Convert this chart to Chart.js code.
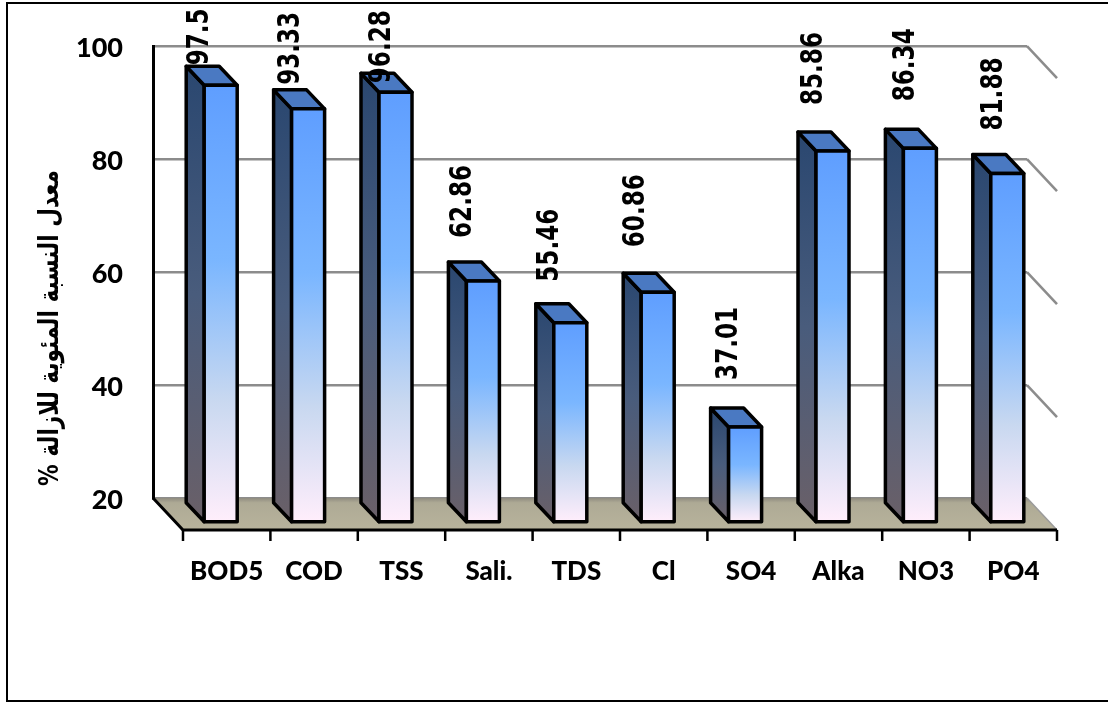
<!DOCTYPE html>
<html>
<head>
<meta charset="utf-8">
<style>
body{margin:0;background:#fff;}
canvas{display:block;}
</style>
<script src="https://cdn.jsdelivr.net/npm/chart.js@4"></script>
</head>
<body>
<canvas id="removal" width="1108" height="702"></canvas>
<script>
var categories=['BOD5','COD','TSS','Sali.','TDS','Cl','SO4','Alka','NO3','PO4'];
var removal=[97.5,93.33,96.28,62.86,55.46,60.86,37.01,85.86,86.34,81.88];
var valueLabels=['97.5','93.33','96.28','62.86','55.46','60.86','37.01','85.86','86.34','81.88'];
var yTicks=[20,40,60,80,100];
var yTitle='معدل النسبة المئوية للازالة %';

// hand placed value labels, px from the back left corner of each bar top
var labelShiftX=[14,17,21,15,14,13,18,16,21,21];
var labelShiftY=[1,5,-10,24,22,26,28,27,28,24];

// depth of the floor and of the bars, px
var floorDx=30,floorDy=32;
var barBackDx=6,barBackDy=6,barFrontDx=24,barFrontDy=25;

var poly=function(ctx,pts){
    ctx.beginPath();
    ctx.moveTo(pts[0][0],pts[0][1]);
    for(var i=1;i<pts.length;i++){
        ctx.lineTo(pts[i][0],pts[i][1]);
    }
    ctx.closePath();
};

var frame3d={
    id:'frame3d',
    beforeDatasetsDraw:function(chart){
        var ctx=chart.ctx,a=chart.chartArea,y=chart.scales.y,x=chart.scales.x;
        ctx.save();
        // side wall gridlines
        ctx.strokeStyle='#8c8c8c';
        ctx.lineWidth=2.5;
        yTicks.forEach(function(t){
            if(t==yTicks[0]) return;
            ctx.beginPath();
            ctx.moveTo(a.right,y.getPixelForValue(t));
            ctx.lineTo(a.right+floorDx,y.getPixelForValue(t)+floorDy);
            ctx.stroke();
        });
        // floor
        var g=ctx.createLinearGradient(0,a.bottom,0,a.bottom+floorDy);
        g.addColorStop(0,'#8f8b80');
        g.addColorStop(0.15,'#aeaa95');
        g.addColorStop(1,'#b8b39c');
        ctx.fillStyle=g;
        poly(ctx,[[a.left,a.bottom],[a.right,a.bottom],[a.right+floorDx,a.bottom+floorDy],[a.left+floorDx,a.bottom+floorDy]]);
        ctx.fill();
        ctx.strokeStyle='#9a9a9a';
        ctx.lineWidth=1.5;
        ctx.beginPath();
        ctx.moveTo(a.right,a.bottom);
        ctx.lineTo(a.right+floorDx,a.bottom+floorDy);
        ctx.stroke();
        // front edge and left edge of the floor
        ctx.strokeStyle='#000';
        ctx.lineWidth=3;
        ctx.beginPath();
        ctx.moveTo(a.left,a.bottom);
        ctx.lineTo(a.left+floorDx,a.bottom+floorDy);
        ctx.lineTo(a.right+floorDx,a.bottom+floorDy);
        ctx.stroke();
        // category ticks on the front edge
        ctx.lineWidth=2.5;
        var step=(x.right-x.left)/categories.length;
        for(var i=0;i<=categories.length;i++){
            ctx.beginPath();
            ctx.moveTo(x.left+i*step+floorDx,a.bottom+floorDy);
            ctx.lineTo(x.left+i*step+floorDx,a.bottom+floorDy+11);
            ctx.stroke();
        }
        ctx.restore();
    },
    afterDatasetsDraw:function(chart){
        var ctx=chart.ctx,bars=chart.getDatasetMeta(0).data;
        ctx.save();
        ctx.lineWidth=3.5;
        ctx.lineJoin='round';
        ctx.strokeStyle='#000';
        bars.forEach(function(el,i){
            var l=el.x-el.width/2,r=el.x+el.width/2,top=el.y,base=el.base;
            var bl=l+barBackDx,bt=top+barBackDy,bb=base+barBackDy,br=r+barBackDx;
            var fl=l+barFrontDx,ft=top+barFrontDy,fb=base+barFrontDy,fr=r+barFrontDx;

            var side=ctx.createLinearGradient(0,bt,0,fb);
            side.addColorStop(0,'#2a4770');
            side.addColorStop(0.5,'#495c7c');
            side.addColorStop(1,'#6a6068');
            ctx.fillStyle=side;
            poly(ctx,[[bl,bt],[fl,ft],[fl,fb],[bl,bb]]);
            ctx.fill();ctx.stroke();

            ctx.fillStyle='#4a79c2';
            poly(ctx,[[bl,bt],[br,bt],[fr,ft],[fl,ft]]);
            ctx.fill();ctx.stroke();

            var face=ctx.createLinearGradient(0,ft,0,fb);
            face.addColorStop(0,'#5f9eff');
            face.addColorStop(0.4,'#7ab6ff');
            face.addColorStop(0.72,'#c8d8f0');
            face.addColorStop(1,'#ffeefb');
            ctx.fillStyle=face;
            poly(ctx,[[fl,ft],[fr,ft],[fr,fb],[fl,fb]]);
            ctx.fill();ctx.stroke();
        });
        ctx.restore();

        // value labels, rotated and squeezed along the reading direction
        ctx.save();
        ctx.fillStyle='#000';
        ctx.font='bold 31px "DejaVu Sans"';
        ctx.textAlign='left';
        ctx.textBaseline='middle';
        bars.forEach(function(el,i){
            ctx.save();
            ctx.translate(el.x-el.width/2+barBackDx+labelShiftX[i],el.y+barBackDy-labelShiftY[i]);
            ctx.rotate(-Math.PI/2);
            ctx.scale(0.745,1);
            ctx.fillText(valueLabels[i],0,0);
            ctx.restore();
        });
        ctx.restore();

        // axis title
        ctx.save();
        ctx.translate(51,328);
        ctx.rotate(-Math.PI/2);
        ctx.scale(0.8,1);
        ctx.fillStyle='#000';
        ctx.font='bold 27px "DejaVu Sans"';
        ctx.textAlign='center';
        ctx.textBaseline='middle';
        ctx.direction='rtl';
        ctx.fillText(yTitle,0,0);
        ctx.restore();

        // page border
        ctx.save();
        ctx.strokeStyle='#000';
        ctx.lineWidth=2;
        ctx.beginPath();
        ctx.moveTo(1108,3);
        ctx.lineTo(7,3);
        ctx.lineTo(7,701);
        ctx.lineTo(1108,701);
        ctx.stroke();
        ctx.restore();
    }
};

new Chart(document.getElementById('removal'),{
    type:'bar',
    data:{
        labels:categories,
        datasets:[{
            data:removal,
            base:20,
            barThickness:33,
            backgroundColor:'rgba(0,0,0,0)',
            borderWidth:0
        }]
    },
    plugins:[frame3d],
    options:{
        responsive:false,
        animation:false,
        layout:{padding:{top:43,right:81,left:0,bottom:0}},
        plugins:{legend:{display:false},tooltip:{enabled:false}},
        scales:{
            x:{
                afterFit:function(s){s.height=204;},
                grid:{display:false},
                border:{display:false},
                ticks:{
                    color:'#000',
                    autoSkip:false,
                    maxRotation:0,
                    padding:50,
                    labelOffset:30,
                    font:{family:'Lato',weight:'900',size:26}
                }
            },
            y:{
                min:20,
                max:100,
                afterFit:function(s){s.width=153;},
                afterBuildTicks:function(s){
                    s.ticks=yTicks.map(function(v){return {value:v};});
                },
                grid:{color:'#8c8c8c',lineWidth:2.5,drawTicks:false},
                border:{display:true,color:'#000',width:3},
                ticks:{
                    color:'#000',
                    padding:30,
                    labelOffset:2,
                    font:{family:'Lato',weight:'900',size:27}
                }
            }
        }
    }
});
</script>
</body>
</html>
